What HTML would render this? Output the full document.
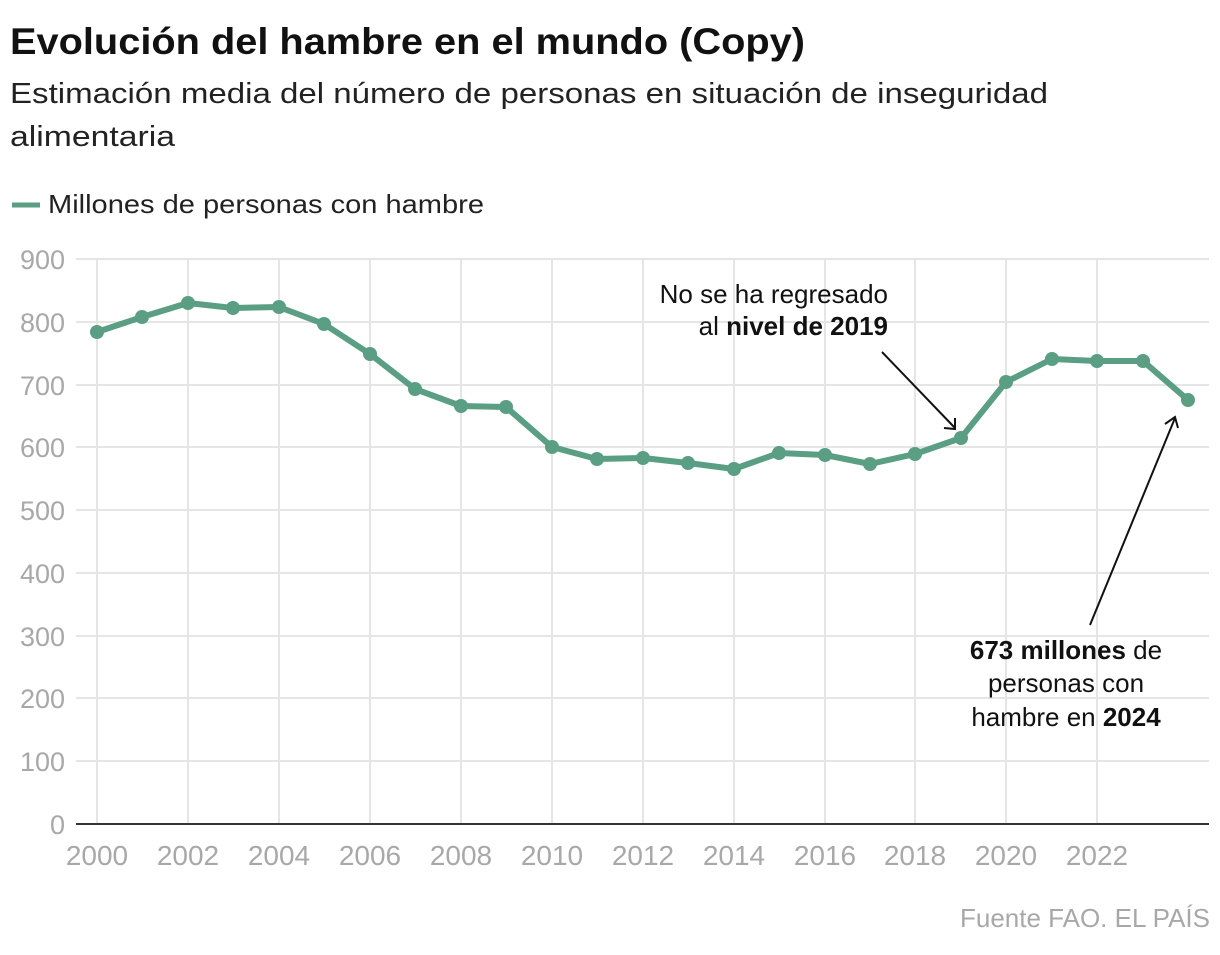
<!DOCTYPE html>
<html><head><meta charset="utf-8"><style>
body{margin:0;width:1220px;height:950px;background:#fff;font-family:"Liberation Sans",sans-serif;overflow:hidden}
</style></head><body>
<svg width="1220" height="950" xmlns="http://www.w3.org/2000/svg" font-family="Liberation Sans, sans-serif">
<text x="10" y="54" font-size="37" font-weight="bold" fill="#111" textLength="795" lengthAdjust="spacingAndGlyphs">Evolución del hambre en el mundo (Copy)</text>
<text x="10" y="103" font-size="29" fill="#222" textLength="1038" lengthAdjust="spacingAndGlyphs">Estimación media del número de personas en situación de inseguridad</text>
<text x="10" y="146" font-size="29" fill="#222" textLength="165" lengthAdjust="spacingAndGlyphs">alimentaria</text>
<line x1="12" y1="205" x2="40" y2="205" stroke="#5a9e83" stroke-width="5"/>
<text x="48" y="213" font-size="26" fill="#222" textLength="436" lengthAdjust="spacingAndGlyphs">Millones de personas con hambre</text>
<g stroke="#e5e5e5" stroke-width="2">
<line x1="76" y1="259" x2="1209" y2="259"/><line x1="76" y1="322" x2="1209" y2="322"/>
<line x1="76" y1="385" x2="1209" y2="385"/><line x1="76" y1="447" x2="1209" y2="447"/>
<line x1="76" y1="510" x2="1209" y2="510"/><line x1="76" y1="573" x2="1209" y2="573"/>
<line x1="76" y1="636" x2="1209" y2="636"/><line x1="76" y1="698" x2="1209" y2="698"/>
<line x1="76" y1="761" x2="1209" y2="761"/>
<line x1="97" y1="259" x2="97" y2="824"/><line x1="188" y1="259" x2="188" y2="824"/>
<line x1="279" y1="259" x2="279" y2="824"/><line x1="370" y1="259" x2="370" y2="824"/>
<line x1="461" y1="259" x2="461" y2="824"/><line x1="552" y1="259" x2="552" y2="824"/>
<line x1="643" y1="259" x2="643" y2="824"/><line x1="734" y1="259" x2="734" y2="824"/>
<line x1="825" y1="259" x2="825" y2="824"/><line x1="915" y1="259" x2="915" y2="824"/>
<line x1="1006" y1="259" x2="1006" y2="824"/><line x1="1097" y1="259" x2="1097" y2="824"/>
</g>
<line x1="76" y1="824" x2="1209" y2="824" stroke="#333" stroke-width="2"/>
<g font-size="27" fill="#a8a8a8" text-anchor="end">
<text x="65" y="269">900</text><text x="65" y="332">800</text><text x="65" y="395">700</text>
<text x="65" y="457">600</text><text x="65" y="520">500</text><text x="65" y="583">400</text>
<text x="65" y="646">300</text><text x="65" y="708">200</text><text x="65" y="771">100</text>
<text x="65" y="834">0</text>
</g>
<g font-size="28" fill="#a8a8a8" text-anchor="middle">
<text x="97" y="865">2000</text><text x="188" y="865">2002</text><text x="279" y="865">2004</text>
<text x="370" y="865">2006</text><text x="461" y="865">2008</text><text x="552" y="865">2010</text>
<text x="643" y="865">2012</text><text x="734" y="865">2014</text><text x="825" y="865">2016</text>
<text x="915" y="865">2018</text><text x="1006" y="865">2020</text><text x="1097" y="865">2022</text>
</g>
<polyline fill="none" stroke="#5a9e83" stroke-width="6" stroke-linejoin="round" points="97,332 142,317 188,303 233,308 279,307 324,324 370,354 415,389 461,406 506,407 552,447 597,459 643,458 688,463 734,469 779,453 825,455 870,464 915,454 961,438 1006,382 1052,359 1097,361 1143,361 1188,400"/>
<g fill="#5a9e83">
<circle cx="97" cy="332" r="7"/><circle cx="142" cy="317" r="7"/><circle cx="188" cy="303" r="7"/><circle cx="233" cy="308" r="7"/><circle cx="279" cy="307" r="7"/><circle cx="324" cy="324" r="7"/><circle cx="370" cy="354" r="7"/><circle cx="415" cy="389" r="7"/><circle cx="461" cy="406" r="7"/><circle cx="506" cy="407" r="7"/><circle cx="552" cy="447" r="7"/><circle cx="597" cy="459" r="7"/><circle cx="643" cy="458" r="7"/><circle cx="688" cy="463" r="7"/><circle cx="734" cy="469" r="7"/><circle cx="779" cy="453" r="7"/><circle cx="825" cy="455" r="7"/><circle cx="870" cy="464" r="7"/><circle cx="915" cy="454" r="7"/><circle cx="961" cy="438" r="7"/><circle cx="1006" cy="382" r="7"/><circle cx="1052" cy="359" r="7"/><circle cx="1097" cy="361" r="7"/><circle cx="1143" cy="361" r="7"/><circle cx="1188" cy="400" r="7"/>
</g>
<g stroke="#111" stroke-width="2" fill="none">
<line x1="882" y1="352" x2="955" y2="428"/><polyline points="944,428 955,429 955,418"/>
<line x1="1090" y1="625" x2="1175" y2="418"/><polyline points="1165,424 1175,417 1178,428"/>
</g>
<g font-size="26" fill="#111" text-anchor="end">
<text x="888" y="303">No se ha regresado</text>
<text x="888" y="335">al <tspan font-weight="bold">nivel de 2019</tspan></text>
</g>
<g font-size="26" fill="#111" text-anchor="middle">
<text x="1066" y="659"><tspan font-weight="bold">673 millones</tspan> de</text>
<text x="1066" y="692">personas con</text>
<text x="1066" y="726">hambre en <tspan font-weight="bold">2024</tspan></text>
</g>
<text x="1210" y="927" font-size="26" fill="#a8a8a8" text-anchor="end">Fuente FAO. EL PAÍS</text>
</svg>
</body></html>
